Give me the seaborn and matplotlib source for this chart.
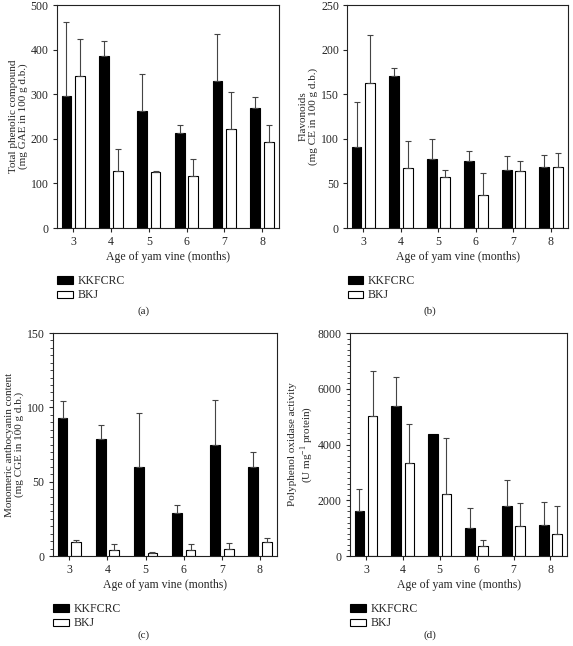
import numpy as np
import pandas as pd
import seaborn as sns
import matplotlib

matplotlib.use("Agg")
import matplotlib.pyplot as plt
from matplotlib.patches import Patch
from matplotlib.ticker import MultipleLocator

months = [3, 4, 5, 6, 7, 8]
cultivars = ["KKFCRC", "BKJ"]

# (a) total phenolic compound
phenolic_kk = [296, 387, 262, 213, 329, 270]
phenolic_kk_err = [166, 32, 83, 18, 107, 23]
phenolic_bkj = [342, 129, 125, 117, 222, 193]
phenolic_bkj_err = [81, 48, 4, 38, 84, 38]

# (b) flavonoids
flav_kk = [91, 170, 77, 75, 65, 68]
flav_kk_err = [50, 10, 23, 11, 16, 14]
flav_bkj = [163, 67, 57, 37, 64, 68]
flav_bkj_err = [53, 31, 8, 25, 11, 16]

# (c) monomeric anthocyanin
antho_kk = [93, 79, 60, 29, 75, 60]
antho_kk_err = [11, 9, 36, 5, 30, 10]
antho_bkj = [9.5, 4, 2, 4, 5, 9.5]
antho_bkj_err = [1.5, 4, 0.5, 4, 4, 2.5]

# (d) polyphenol oxidase
ppo_kk = [1630, 5390, 4380, 1000, 1810, 1100]
ppo_kk_err = [770, 1030, 0, 710, 910, 830]
ppo_bkj = [5030, 3320, 2220, 350, 1070, 800]
ppo_bkj_err = [1620, 1420, 2030, 230, 830, 980]

panels = [
    ("(a)", "Total phenolic compound\n(mg GAE in 100 g d.b.)", 500, 100, None,
     phenolic_kk, phenolic_kk_err, phenolic_bkj, phenolic_bkj_err),
    ("(b)", "Flavonoids\n(mg CE in 100 g d.b.)", 250, 50, None,
     flav_kk, flav_kk_err, flav_bkj, flav_bkj_err),
    ("(c)", "Monomeric anthocyanin content\n(mg CGE in 100 g d.b.)", 150, 50, 5,
     antho_kk, antho_kk_err, antho_bkj, antho_bkj_err),
    ("(d)", "Polyphenol oxidase activity\n(U mg$^{-1}$ protein)", 8000, 2000, 200,
     ppo_kk, ppo_kk_err, ppo_bkj, ppo_bkj_err),
]

positions = [
    [0.0995, 0.647, 0.3875, 0.345],
    [0.606, 0.647, 0.385, 0.345],
    [0.0925, 0.1393, 0.391, 0.3452],
    [0.611, 0.1393, 0.3785, 0.3452],
]
label_x = [0.25, 0.75, 0.25, 0.75]
label_y = [0.518, 0.518, 0.016, 0.016]

sns.set_style("ticks")
plt.rcParams["font.family"] = ["Liberation Serif", "DejaVu Serif"]
plt.rcParams["mathtext.fontset"] = "custom"
plt.rcParams["mathtext.rm"] = "Liberation Serif"
plt.rcParams["font.size"] = 8

fig = plt.figure(figsize=(5.73, 6.46), dpi=100)

for i, (tag, ylab, ymax, major, minor, kk, kk_err, bkj, bkj_err) in enumerate(panels):
    ax = fig.add_axes(positions[i])
    df = pd.DataFrame({
        "month": [str(m) for m in months] * 2,
        "cultivar": ["KKFCRC"] * 6 + ["BKJ"] * 6,
        "value": kk + bkj,
    })
    sns.barplot(data=df, x="month", y="value", hue="cultivar",
                hue_order=cultivars, palette={"KKFCRC": "black", "BKJ": "white"},
                edgecolor="black", linewidth=0.8, width=0.72, gap=0.28,
                errorbar=None, legend=False, ax=ax)

    for cont, errs in zip(ax.containers, [kk_err, bkj_err]):
        for bar, e in zip(cont, errs):
            if e <= 0:
                continue
            xc = bar.get_x() + bar.get_width() / 2
            h = bar.get_height()
            ax.errorbar([xc], [h], yerr=[[0], [e]], fmt="none", ecolor="#444444",
                        elinewidth=0.8, capsize=2.5, capthick=0.8, zorder=1)

    ax.set_xlim(-0.43, 5.45)
    ax.set_ylim(0, ymax)
    ax.yaxis.set_major_locator(MultipleLocator(major))
    if minor:
        ax.yaxis.set_minor_locator(MultipleLocator(minor))
    ax.tick_params(axis="both", which="major", length=3, width=0.8, labelsize=8.5, pad=3)
    ax.tick_params(axis="y", which="minor", length=2, width=0.6)
    for sp in ax.spines.values():
        sp.set_linewidth(0.8)
        sp.set_color("#222222")
    ax.set_xlabel("Age of yam vine (months)", fontsize=8.5, labelpad=2)
    ax.set_ylabel(ylab, fontsize=8, labelpad=2, linespacing=1.1)

    handles = [Patch(facecolor="black", edgecolor="black", linewidth=0.8),
               Patch(facecolor="white", edgecolor="black", linewidth=0.8)]
    ax.legend(handles=handles, labels=cultivars, loc="upper left",
              bbox_to_anchor=(-0.02, -0.19), frameon=False, fontsize=8.5,
              handlelength=1.3, handleheight=0.6, handletextpad=0.4,
              labelspacing=0.2, borderaxespad=0)

    fig.text(label_x[i], label_y[i], tag, ha="center", va="center", fontsize=8)

fig.savefig("out.png", dpi=100)
